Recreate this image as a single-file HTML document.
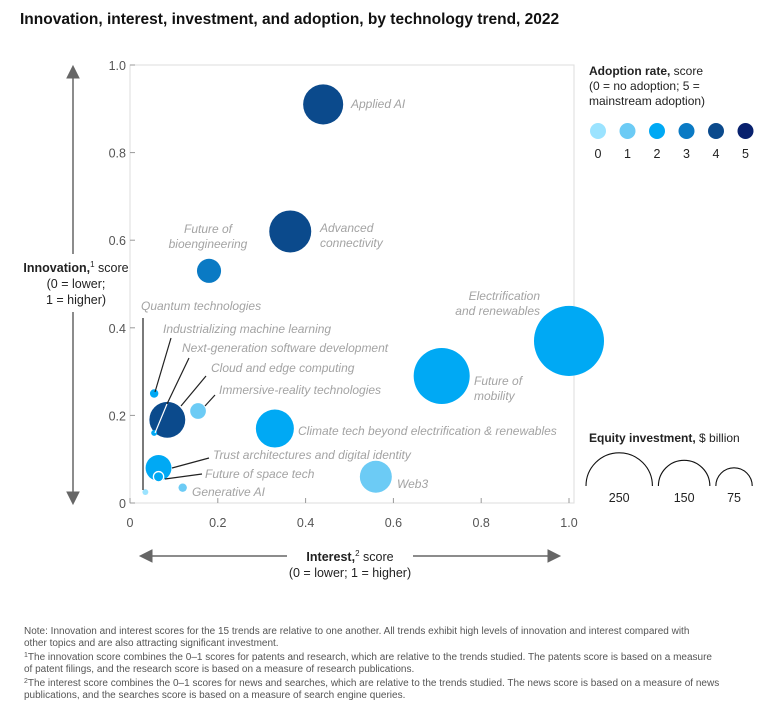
<!DOCTYPE html>
<html><head><meta charset="utf-8"><style>
body{margin:0;background:#fff;width:780px;height:715px;overflow:hidden;font-family:"Liberation Sans",sans-serif;}
svg text{font-family:"Liberation Sans",sans-serif;}
.lab{font-style:italic;fill:#a3a3a3;font-size:12px;}
.tick{fill:#555;font-size:12.5px;}
</style></head><body>
<svg id="chart" width="780" height="715">
<text x="20" y="24" font-size="15.5" font-weight="bold" fill="#111">Innovation, interest, investment, and adoption, by technology trend, 2022</text>
<g stroke="#666" fill="#666">
<line x1="73" y1="74" x2="73" y2="496" stroke-width="1.5"/>
<polygon points="67,78 73,66 79,78"/><polygon points="67,492 73,504 79,492"/>
</g>
<rect x="20" y="254" width="108" height="58" fill="#fff"/>
<rect x="130" y="65" width="444" height="438" fill="none" stroke="#ddd"/>
<g id="ticks"></g>
<text x="76" y="272" text-anchor="middle" font-size="12.5" fill="#222"><tspan font-weight="bold">Innovation,</tspan><tspan font-size="8" dy="-5">1</tspan><tspan dy="5"> score</tspan><tspan x="76" dy="16">(0 = lower;</tspan><tspan x="76" dy="16">1 = higher)</tspan></text>
<g stroke="#666" fill="#666">
<line x1="148" y1="556" x2="552" y2="556" stroke-width="1.5"/>
<polygon points="152,550 140,556 152,562"/><polygon points="548,550 560,556 548,562"/>
</g>
<rect x="287" y="545" width="126" height="16" fill="#fff"/>
<text x="350" y="561" text-anchor="middle" font-size="12.5" fill="#222"><tspan font-weight="bold">Interest,</tspan><tspan font-size="8" dy="-5">2</tspan><tspan dy="5"> score</tspan><tspan x="350" dy="16">(0 = lower; 1 = higher)</tspan></text>
<g id="bubbles"></g>
<g stroke="#222" stroke-width="1.2">
<line x1="143" y1="318" x2="143" y2="490"/>
<line x1="171" y1="338" x2="155" y2="392"/>
<line x1="189" y1="358" x2="167" y2="404"/>
<line x1="206" y1="376" x2="181" y2="406"/>
<line x1="215" y1="395" x2="205" y2="406"/>
<line x1="209" y1="458" x2="172" y2="468"/>
<line x1="202" y1="474" x2="165" y2="479"/>
</g>
<line x1="167" y1="404" x2="155" y2="433" stroke="#fff" stroke-width="1.2"/>
<g id="labels">
<text class="lab" x="351" y="108">Applied AI</text>
<text class="lab" x="320" y="232">Advanced<tspan x="320" dy="15">connectivity</tspan></text>
<text class="lab" x="208" y="233" text-anchor="middle">Future of<tspan x="208" dy="15">bioengineering</tspan></text>
<text class="lab" x="540" y="300" text-anchor="end">Electrification<tspan x="540" dy="15">and renewables</tspan></text>
<text class="lab" x="474" y="385">Future of<tspan x="474" dy="15">mobility</tspan></text>
<text class="lab" x="298" y="435">Climate tech beyond electrification &amp; renewables</text>
<text class="lab" x="397" y="488">Web3</text>
<text class="lab" x="141" y="310">Quantum technologies</text>
<text class="lab" x="163" y="333">Industrializing machine learning</text>
<text class="lab" x="182" y="352">Next-generation software development</text>
<text class="lab" x="211" y="372">Cloud and edge computing</text>
<text class="lab" x="219" y="394">Immersive-reality technologies</text>
<text class="lab" x="213" y="459">Trust architectures and digital identity</text>
<text class="lab" x="205" y="478">Future of space tech</text>
<text class="lab" x="192" y="496">Generative AI</text>
</g>
<text x="589" y="75" font-size="12" fill="#222"><tspan font-weight="bold">Adoption rate,</tspan> score<tspan x="589" dy="15">(0 = no adoption; 5 =</tspan><tspan x="589" dy="15">mainstream adoption)</tspan></text>
<g id="adopt-legend"></g>
<text x="589" y="442" font-size="12" fill="#222"><tspan font-weight="bold">Equity investment,</tspan> $ billion</text>
<g id="size-legend"></g>
<g font-size="10" fill="#555">
<text x="24" y="634">Note: Innovation and interest scores for the 15 trends are relative to one another. All trends exhibit high levels of innovation and interest compared with</text>
<text x="24" y="646">other topics and are also attracting significant investment.</text>
<text x="24" y="660"><tspan font-size="7" dy="-3">1</tspan><tspan dy="3">The innovation score combines the 0–1 scores for patents and research, which are relative to the trends studied. The patents score is based on a measure</tspan></text>
<text x="24" y="672">of patent filings, and the research score is based on a measure of research publications.</text>
<text x="24" y="686"><tspan font-size="7" dy="-3">2</tspan><tspan dy="3">The interest score combines the 0–1 scores for news and searches, which are relative to the trends studied. The news score is based on a measure of news</tspan></text>
<text x="24" y="698">publications, and the searches score is based on a measure of search engine queries.</text>
</g>
</svg>
<script>
const trends=["Applied AI","Advanced connectivity","Future of bioengineering","Electrification and renewables","Future of mobility","Climate tech beyond electrification","Web3","Immersive-reality technologies","Cloud and edge computing","Industrializing machine learning","Next-generation software development","Trust architectures and digital identity","Future of space tech","Generative AI","Quantum technologies"];
const interest=[0.44,0.365,0.18,1.0,0.71,0.33,0.56,0.155,0.085,0.055,0.055,0.065,0.065,0.12,0.035];
const innovation=[0.91,0.62,0.53,0.37,0.29,0.17,0.06,0.21,0.19,0.25,0.16,0.08,0.06,0.035,0.025];
const investment=[91,100,33,278,178,82,58,14,73,4,2,38,6,4,2];
const adoption=[4,4,3,2,2,2,1,1,4,2,2,2,2,1,0];
const xTicks=[0,0.2,0.4,0.6,0.8,1.0];
const yTicks=[0,0.2,0.4,0.6,0.8,1.0];
const legendScores=[0,1,2,3,4,5];
const legendSizes=[250,150,75];
const colors=["#9be3ff","#6ccbf5","#00a9f4","#0a7ac4","#0b4a8c","#08216e"];
const NS="http://www.w3.org/2000/svg";
const X=v=>130+v*439, Y=v=>503-v*438, R=v=>2.1*Math.sqrt(v);
function mk(tag,attrs,parent){const e=document.createElementNS(NS,tag);for(const k in attrs)e.setAttribute(k,attrs[k]);parent.appendChild(e);return e;}
const tg=document.getElementById('ticks');
xTicks.forEach((t,i)=>{
 const l=mk('line',{x1:X(t),x2:X(t),y1:503,y2:498,stroke:'#999'},tg);
 
 
 const tx=mk('text',{x:X(t),y:527,'text-anchor':'middle',class:'tick'},tg);
 tx.textContent=t===0?'0':t.toFixed(1);
 
 
});
yTicks.forEach((t,i)=>{
 const l=mk('line',{x1:130,x2:135,y1:Y(t),y2:Y(t),stroke:'#999'},tg);
 
 
 const tx=mk('text',{x:126,y:Y(t)+5,'text-anchor':'end',class:'tick'},tg);
 tx.textContent=t===0?'0':t.toFixed(1);
 
 
});
const bg=document.getElementById('bubbles');
trends.forEach((n,i)=>{
 const c=mk('circle',{cx:X(interest[i]),cy:Y(innovation[i]),r:R(investment[i]),fill:colors[adoption[i]]},bg);
 if(n==="Future of space tech"){c.setAttribute('stroke','#fff');c.setAttribute('stroke-width','1.3');}
 
 
});
const al=document.getElementById('adopt-legend');
legendScores.forEach((s,i)=>{
 const cx=598+i*29.5;
 const c=mk('circle',{cx:cx,cy:131,r:8,fill:colors[s]},al);
 
 
 const t=mk('text',{x:cx,y:158,'text-anchor':'middle','font-size':12.5,fill:'#222'},al);
 t.textContent=s;
 
 
});
const sl=document.getElementById('size-legend');
let lx=586;
legendSizes.forEach((v,i)=>{
 const r=R(v), cx=lx+r;
 const p=mk('path',{d:`M${cx-r},486 A${r},${r} 0 0 1 ${cx+r},486`,fill:'none',stroke:'#111','stroke-width':1.1},sl);
 
 
 const t=mk('text',{x:cx,y:502,'text-anchor':'middle','font-size':12.5,fill:'#222'},sl);
 t.textContent=v;
 
 
 lx=cx+r+6;
});
</script>
</body></html>
